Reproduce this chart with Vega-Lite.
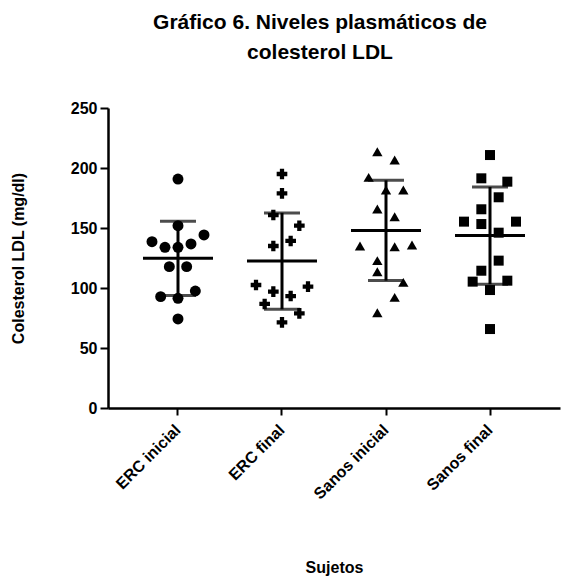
{
  "$schema": "https://vega.github.io/schema/vega-lite/v6.json",
  "width": 452,
  "height": 300,
  "autosize": "none",
  "padding": {"left": 108, "top": 108, "right": 3, "bottom": 169},
  "background": "white",
  "title": {
    "text": ["Gráfico 6. Niveles plasmáticos de", "colesterol LDL"],
    "font": "Liberation Sans",
    "fontSize": 21,
    "fontWeight": "bold",
    "color": "#000000",
    "anchor": "middle",
    "dx": -14,
    "offset": 37,
    "lineHeight": 30
  },
  "config": {
    "view": {"stroke": null},
    "axis": {"grid": false}
  },
  "data": {
    "values": [
      {"g": "ERC inicial", "v": 190.8, "j": 0},
      {"g": "ERC inicial", "v": 151.9, "j": 0},
      {"g": "ERC inicial", "v": 144.2, "j": 3},
      {"g": "ERC inicial", "v": 138.6, "j": -3},
      {"g": "ERC inicial", "v": 133.9, "j": -1.5},
      {"g": "ERC inicial", "v": 133.9, "j": 0},
      {"g": "ERC inicial", "v": 136.7, "j": 1.5},
      {"g": "ERC inicial", "v": 117.8, "j": -1},
      {"g": "ERC inicial", "v": 117.8, "j": 1},
      {"g": "ERC inicial", "v": 92.8, "j": -2},
      {"g": "ERC inicial", "v": 91.4, "j": 0},
      {"g": "ERC inicial", "v": 97.5, "j": 2},
      {"g": "ERC inicial", "v": 74.2, "j": 0},
      {"g": "ERC final", "v": 195.0, "j": 0},
      {"g": "ERC final", "v": 178.9, "j": 0},
      {"g": "ERC final", "v": 160.8, "j": -1},
      {"g": "ERC final", "v": 151.9, "j": 2},
      {"g": "ERC final", "v": 135.0, "j": -1},
      {"g": "ERC final", "v": 139.2, "j": 1},
      {"g": "ERC final", "v": 102.5, "j": -3},
      {"g": "ERC final", "v": 101.1, "j": 3},
      {"g": "ERC final", "v": 97.0, "j": -1},
      {"g": "ERC final", "v": 93.3, "j": 1},
      {"g": "ERC final", "v": 86.7, "j": -2},
      {"g": "ERC final", "v": 78.9, "j": 2},
      {"g": "ERC final", "v": 71.4, "j": 0},
      {"g": "Sanos inicial", "v": 213.6, "j": -1},
      {"g": "Sanos inicial", "v": 206.7, "j": 1},
      {"g": "Sanos inicial", "v": 192.2, "j": -2},
      {"g": "Sanos inicial", "v": 181.7, "j": 0},
      {"g": "Sanos inicial", "v": 181.7, "j": 2},
      {"g": "Sanos inicial", "v": 165.8, "j": -1},
      {"g": "Sanos inicial", "v": 159.4, "j": 1},
      {"g": "Sanos inicial", "v": 135.0, "j": -3},
      {"g": "Sanos inicial", "v": 134.4, "j": 1},
      {"g": "Sanos inicial", "v": 135.8, "j": 3},
      {"g": "Sanos inicial", "v": 122.8, "j": -1},
      {"g": "Sanos inicial", "v": 113.6, "j": -1},
      {"g": "Sanos inicial", "v": 104.7, "j": 2},
      {"g": "Sanos inicial", "v": 92.2, "j": 1},
      {"g": "Sanos inicial", "v": 79.4, "j": -1},
      {"g": "Sanos final", "v": 210.8, "j": 0},
      {"g": "Sanos final", "v": 191.4, "j": -1},
      {"g": "Sanos final", "v": 188.6, "j": 2},
      {"g": "Sanos final", "v": 175.6, "j": 1},
      {"g": "Sanos final", "v": 165.6, "j": -1},
      {"g": "Sanos final", "v": 155.3, "j": -3},
      {"g": "Sanos final", "v": 153.3, "j": -1},
      {"g": "Sanos final", "v": 155.3, "j": 3},
      {"g": "Sanos final", "v": 146.1, "j": 1},
      {"g": "Sanos final", "v": 122.8, "j": 1},
      {"g": "Sanos final", "v": 114.4, "j": -1},
      {"g": "Sanos final", "v": 105.3, "j": -2},
      {"g": "Sanos final", "v": 106.1, "j": 2},
      {"g": "Sanos final", "v": 98.3, "j": 0},
      {"g": "Sanos final", "v": 65.8, "j": 0}
    ]
  },
  "encoding": {
    "x": {
      "field": "g",
      "type": "nominal",
      "sort": ["ERC inicial", "ERC final", "Sanos inicial", "Sanos final"],
      "scale": {"type": "band", "paddingInner": 0, "paddingOuter": 0.173},
      "axis": {
        "title": "Sujetos",
        "titleFont": "Liberation Sans",
        "titleFontSize": 16,
        "titleFontWeight": "bold",
        "titleColor": "#000000",
        "titleY": 164,
        "titleBaseline": "alphabetic",
        "labelFont": "Liberation Sans",
        "labelFontSize": 16,
        "labelFontWeight": "bold",
        "labelColor": "#000000",
        "labelAngle": -45,
        "labelAlign": "right",
        "labelBaseline": "middle",
        "labelPadding": 12,
        "tickSize": 7,
        "tickWidth": 2,
        "tickColor": "#000000",
        "domainWidth": 2.5,
        "domainColor": "#000000"
      }
    },
    "y": {
      "field": "v",
      "type": "quantitative",
      "scale": {"domain": [0, 250], "nice": false},
      "axis": {
        "title": "Colesterol LDL (mg/dl)",
        "titleFont": "Liberation Sans",
        "titleFontSize": 16,
        "titleFontWeight": "bold",
        "titleColor": "#000000",
        "titleX": -90,
        "titleY": 150,
        "titleAlign": "center",
        "titleBaseline": "middle",
        "values": [0, 50, 100, 150, 200, 250],
        "labelFont": "Liberation Sans",
        "labelFontSize": 16,
        "labelFontWeight": "bold",
        "labelColor": "#000000",
        "labelPadding": 3,
        "tickSize": 8,
        "tickWidth": 2,
        "tickColor": "#000000",
        "domainWidth": 2.5,
        "domainColor": "#000000"
      }
    }
  },
  "layer": [
    {
      "mark": {"type": "errorbar", "extent": "stdev", "thickness": 3, "color": "#000000", "ticks": {"size": 36, "thickness": 3, "color": "#000000"}}
    },
    {
      "mark": {"type": "tick", "size": 70, "thickness": 3, "color": "#000000", "orient": "horizontal"},
      "encoding": {"y": {"aggregate": "mean", "field": "v", "type": "quantitative"}}
    },
    {
      "mark": {"type": "point", "filled": true, "opacity": 1, "color": "#000000"},
      "encoding": {
        "xOffset": {"field": "j", "type": "quantitative", "scale": {"domain": [-3, 3], "range": [26, 78]}},
        "shape": {"field": "g", "type": "nominal", "scale": {"domain": ["ERC inicial", "ERC final", "Sanos inicial", "Sanos final"], "range": ["circle", "cross", "triangle-up", "square"]}, "legend": null},
        "size": {"field": "g", "type": "nominal", "scale": {"domain": ["ERC inicial", "ERC final", "Sanos inicial", "Sanos final"], "range": [120, 100, 170, 165]}, "legend": null}
      }
    }
  ]
}
